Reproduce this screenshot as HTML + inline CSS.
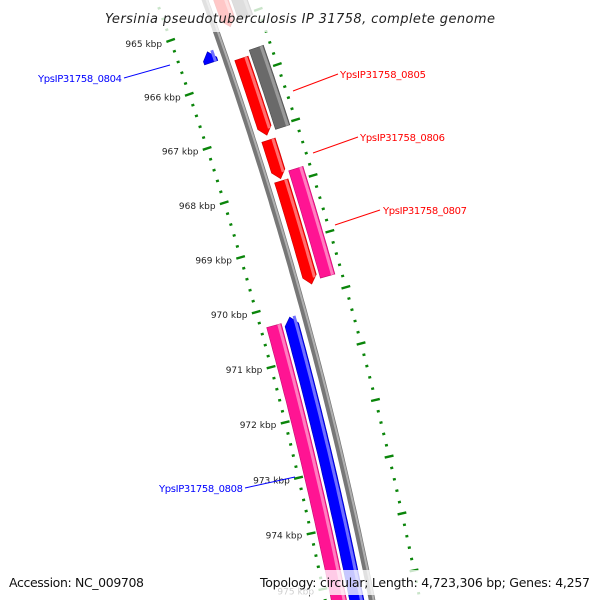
<!DOCTYPE html>
<html><head><meta charset="utf-8"><style>
html,body{margin:0;padding:0;background:#fff;width:600px;height:600px;overflow:hidden;}
svg{display:block;font-family:"DejaVu Sans","Liberation Sans",sans-serif;overflow:hidden;}
</style></head><body>
<svg id="map" width="600" height="600" viewBox="0 0 600 600" xmlns="http://www.w3.org/2000/svg">
<g id="ticks"></g>
<g id="genes"></g>
<g id="labels">
  <line x1="124" y1="78" x2="170" y2="65" stroke="#0000ff" stroke-width="1"/>
  <text x="38" y="82" font-size="10" fill="#0000ff" textLength="84">YpsIP31758_0804</text>
  <line x1="293" y1="91" x2="338" y2="74" stroke="#ff0000" stroke-width="1"/>
  <text x="340" y="78" font-size="10" fill="#ff0000" textLength="86">YpsIP31758_0805</text>
  <line x1="313" y1="153" x2="358" y2="137" stroke="#ff0000" stroke-width="1"/>
  <text x="360" y="141" font-size="10" fill="#ff0000" textLength="85">YpsIP31758_0806</text>
  <line x1="335" y1="225" x2="380" y2="210" stroke="#ff0000" stroke-width="1"/>
  <text x="383" y="214" font-size="10" fill="#ff0000" textLength="84">YpsIP31758_0807</text>
  <line x1="245" y1="488" x2="295" y2="477" stroke="#0000ff" stroke-width="1"/>
  <text x="159" y="492" font-size="10" fill="#0000ff" textLength="84">YpsIP31758_0808</text>
</g>
<rect x="102" y="0" width="396" height="32" fill="#fff" fill-opacity="0.78"/>
<text x="300" y="23" text-anchor="middle" font-size="13" font-style="italic" fill="#222" textLength="390">Yersinia pseudotuberculosis IP 31758, complete genome</text>
<rect x="5" y="570" width="142" height="25" fill="#fff" fill-opacity="0.78"/>
<text x="9" y="587" font-size="12.5" fill="#111" textLength="135">Accession: NC_009708</text>
<rect x="256" y="570" width="338" height="25" fill="#fff" fill-opacity="0.78"/>
<text x="260" y="587" font-size="12.5" fill="#111" textLength="330">Topology: circular; Length: 4,723,306 bp; Genes: 4,257</text>
</svg>
<script>
// ---- data ----
const geneStart  = [964.3, 964.3, 965.40, 965.70, 965.61, 967.19, 967.93, 967.80, 970.24, 970.31];
const geneEnd    = [965.12, 965.05, 965.60, 967.10, 967.05, 967.89, 969.79, 969.73, 976.0, 976.0];
const geneStrand = [1, 1, -1, 1, 1, 1, 1, 1, -1, -1];
const geneSlot   = [1, 2, 1, 1, 2, 1, 1, 2, 1, 2];
const geneType   = ["red", "gray", "blue", "red", "gray", "red", "red", "pink", "blue", "pink"];
const tickStartKbp = 963;
const tickEndKbp = 977;
const tickLabels = ["963 kbp","964 kbp","965 kbp","966 kbp","967 kbp","968 kbp","969 kbp","970 kbp","971 kbp","972 kbp","973 kbp","974 kbp","975 kbp","976 kbp","977 kbp"];

// ---- geometry ----
const CX=-3731, CY=1419, RB=4184, DEG0=-19.46, DPK=0.789;
const NS="http://www.w3.org/2000/svg";
function ang(k){return (DEG0+(k-965)*DPK)*Math.PI/180;}
function pt(r,k){const a=ang(k);return [CX+r*Math.cos(a), CY+r*Math.sin(a)];}
function mk(tag,attrs,parent){const e=document.createElementNS(NS,tag);for(const a in attrs)e.setAttribute(a,attrs[a]);parent.appendChild(e);return e;}
const palette={red:["#ff0000","#ff7070","#c80000"],blue:["#0000ff","#7070ff","#0000b0"],pink:["#ff1493","#ff7fc0","#c40c6e"],gray:["#6a6a6a","#9a9a9a","#4a4a4a"]};

const gG=document.getElementById('genes');
const gT=document.getElementById('ticks');

// backbone
(function(){
  const pts=[];
  for(let k=963.5;k<=976.2;k+=0.1)pts.push(pt(RB,k));
  const d="M"+pts.map(p=>p[0].toFixed(1)+","+p[1].toFixed(1)).join(" L");
  const b=mk('path',{d:d,fill:"none",stroke:"#777","stroke-width":6.5},gG);
  
  
  const pts2=[];
  for(let k=963.5;k<=976.2;k+=0.1)pts2.push(pt(RB+1.5,k));
  const h=mk('path',{d:"M"+pts2.map(p=>p[0].toFixed(1)+","+p[1].toFixed(1)).join(" L"),fill:"none",stroke:"#b0b0b0","stroke-width":2},gG);
  
  
})();

function bandPath(r1,r2,s,e,strand,arrow){
  const ah=0.14; const rm=(r1+r2)/2; const P=[];
  let a=s,b=e;
  if(arrow){ if(strand>0) b=Math.max(s,e-ah); else a=Math.min(e,s+ah); }
  const n=Math.max(2,Math.ceil((b-a)/0.1));
  if(arrow && strand<0) P.push(pt(rm,s));
  for(let i=0;i<=n;i++)P.push(pt(r1,a+(b-a)*i/n));
  if(arrow && strand>0) P.push(pt(rm,e));
  for(let i=n;i>=0;i--)P.push(pt(r2,a+(b-a)*i/n));
  return "M"+P.map(p=>p[0].toFixed(1)+","+p[1].toFixed(1)).join(" L")+"Z";
}

for(let i=0;i<geneStart.length;i++){
  const st=geneStrand[i], sl=geneSlot[i];
  const inner = sl===1?8:25, outer = sl===1?22:40;
  const r1 = st>0?RB+inner:RB-outer, r2 = st>0?RB+outer:RB-inner;
  const arrow = geneType[i]!=="gray" && geneType[i]!=="pink";
  const c=palette[geneType[i]];
  const g=mk('g',{},gG);
  
  
  const body=mk('path',{d:bandPath(r1,r2,geneStart[i],geneEnd[i],st,arrow),fill:c[0],stroke:c[2],"stroke-width":0.6},g);
  
  
  const hs=mk('path',{d:bandPath(r2-4,r2-1,geneStart[i],geneEnd[i]-(arrow&&st>0?0.1:0),st,false),fill:c[1]},g);
  
  
}

// ticks on inner and outer rings
const rings=[RB-46, RB+47];
for(let ri=0;ri<rings.length;ri++){
  const r=rings[ri];
  for(let j=0;j<=Math.round((tickEndKbp-tickStartKbp)*5);j++){
    const k=tickStartKbp+j*0.2;
    const major=(j%5===0);
    const L=major?4.5:1.5;
    const p1=pt(r-L,k), p2=pt(r+L,k);
    const t=mk('line',{x1:p1[0].toFixed(1),y1:p1[1].toFixed(1),x2:p2[0].toFixed(1),y2:p2[1].toFixed(1),stroke:"#0a850a","stroke-width":2.4},gT);
    
    
    if(major && ri===0){
      const lp=pt(r-9,k);
      const tx=mk('text',{x:lp[0].toFixed(1),y:(lp[1]+3.5).toFixed(1),"text-anchor":"end","font-size":"9",fill:"#222"},gT);
      tx.textContent=tickLabels[j/5];
      
      
    }
  }
}
</script>
</body></html>
